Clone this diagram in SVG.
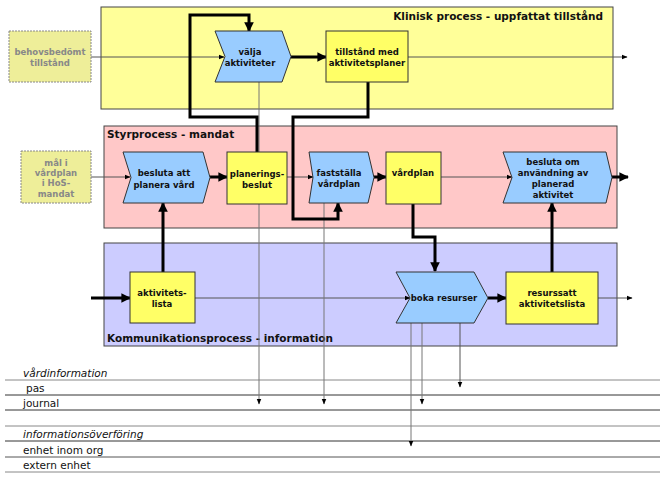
<svg xmlns="http://www.w3.org/2000/svg" width="669" height="477" viewBox="0 0 669 477">
<defs>
<style>
.lane{stroke:#444;stroke-width:1}
.box{fill:#FFFF66;stroke:#333;stroke-width:1}
.chev{fill:#99CCFF;stroke:#333;stroke-width:1}
.ext{fill:#EEEE99;stroke:#888;stroke-width:1;stroke-dasharray:2,1}
.lbl{font-family:"DejaVu Sans",Verdana,sans-serif;font-size:8.5px;font-weight:bold;fill:#111;text-anchor:middle}
.glbl{font-family:"DejaVu Sans",Verdana,sans-serif;font-size:8.5px;font-weight:bold;fill:#888;text-anchor:middle}
.title{font-family:"DejaVu Sans",Verdana,sans-serif;font-size:10.5px;font-weight:bold;fill:#111}
.row{font-family:"DejaVu Sans",Verdana,sans-serif;font-size:10.5px;fill:#111}
.it{font-style:italic}
.thick{stroke:#000;stroke-width:3;fill:none}
.thin{stroke:#555;stroke-width:1;fill:none}
.vthin{stroke:#777;stroke-width:1;fill:none}
</style>
<marker id="ah" viewBox="0 0 10 10" refX="9" refY="5" markerWidth="3.2" markerHeight="3.2" orient="auto" markerUnits="strokeWidth">
<path d="M0,0 L10,5 L0,10 z" fill="#000"/>
</marker>
<marker id="as" viewBox="0 0 10 10" refX="9" refY="5" markerWidth="6" markerHeight="6" orient="auto" markerUnits="strokeWidth">
<path d="M0,1 L10,5 L0,9 z" fill="#000"/>
</marker>
<pattern id="grid" width="8" height="8" patternUnits="userSpaceOnUse">
<rect width="8" height="8" fill="#EEEE99"/>
<path d="M8,0 V8 M0,8 H8" stroke="#FFFFCC" stroke-width="0.8"/>
</pattern>
</defs>

<g id="lane-klinisk">
<rect class="lane" x="101" y="7" width="512" height="102" fill="#FFFF99"/>
<text class="title" x="603" y="20" text-anchor="end">Klinisk process - uppfattat tillstånd</text>
</g>
<g id="lane-styr">
<rect class="lane" x="104" y="126" width="513" height="102" fill="#FFC8C8"/>
<text class="title" x="107" y="138">Styrprocess - mandat</text>
</g>
<g id="lane-komm">
<rect class="lane" x="104" y="243" width="513" height="103" fill="#CCCCFF"/>
<text class="title" x="107" y="342">Kommunikationsprocess - information</text>
</g>

<g id="rows">
<line x1="5" y1="380" x2="660" y2="380" stroke="#888" stroke-width="1"/>
<line x1="5" y1="395" x2="660" y2="395" stroke="#333" stroke-width="1"/>
<line x1="5" y1="410" x2="660" y2="410" stroke="#333" stroke-width="1"/>
<line x1="5" y1="426" x2="660" y2="426" stroke="#888" stroke-width="1"/>
<line x1="5" y1="441" x2="660" y2="441" stroke="#333" stroke-width="1"/>
<line x1="5" y1="457" x2="660" y2="457" stroke="#555" stroke-width="1"/>
<line x1="5" y1="472" x2="660" y2="472" stroke="#888" stroke-width="1"/>
<text class="row it" x="23" y="377">vårdinformation</text>
<text class="row" x="26" y="392">pas</text>
<text class="row" x="23" y="407">journal</text>
<text class="row it" x="23" y="438">informationsöverföring</text>
<text class="row" x="23" y="454">enhet inom org</text>
<text class="row" x="23" y="469">extern enhet</text>
</g>

<g id="connectors">
<path class="thin" d="M91,57 H224" marker-end="url(#as)"/>
<path class="thin" d="M408,57 H627" marker-end="url(#as)"/>
<path class="thin" d="M91,177 H130" marker-end="url(#as)"/>
<path class="thin" d="M287,177 H313" marker-end="url(#as)"/>
<path class="thin" d="M441,177 H512" marker-end="url(#as)"/>
<path class="thin" d="M195,298 H410" marker-end="url(#as)"/>
<path class="thin" d="M598,298 H632" marker-end="url(#as)"/>
<path class="vthin" d="M259,82 V404" marker-end="url(#as)"/>
<path class="vthin" d="M324,203 V404" marker-end="url(#as)"/>
<path class="vthin" d="M411,323 V446" marker-end="url(#as)"/>
<path class="vthin" d="M422,323 V404" marker-end="url(#as)"/>
<path class="thin" d="M460,323 V387" marker-end="url(#as)"/>
<path class="thick" d="M257,152 V117 H190 V15 H249 V31" marker-end="url(#ah)"/>
<path class="thick" d="M291,57 H326" marker-end="url(#ah)"/>
<path class="thick" d="M368,82 V117 H293 V219 H338 V203" marker-end="url(#ah)"/>
<path class="thick" d="M210,177 H227" marker-end="url(#ah)"/>
<path class="thick" d="M374,177 H386" marker-end="url(#ah)"/>
<path class="thick" d="M612,177 H628" marker-end="url(#ah)"/>
<path class="thick" d="M163,272 V203" marker-end="url(#ah)"/>
<path class="thick" d="M91,298 H130" marker-end="url(#ah)"/>
<path class="thick" d="M413,204 V237 H435 V271" marker-end="url(#ah)"/>
<path class="thick" d="M488,298 H506" marker-end="url(#ah)"/>
<path class="thick" d="M552,272 V203" marker-end="url(#ah)"/>
</g>

<g id="behovsbedomt">
<rect class="ext" x="9" y="31" width="82" height="51" fill="url(#grid)"/>
<text class="glbl" x="50" y="55">behovsbedömt</text>
<text class="glbl" x="50" y="66">tillstånd</text>
</g>
<g id="mal">
<rect class="ext" x="21" y="151" width="70" height="52" fill="url(#grid)"/>
<text class="glbl" x="56" y="166">mål i</text>
<text class="glbl" x="56" y="176">vårdplan</text>
<text class="glbl" x="56" y="186">i HoS-</text>
<text class="glbl" x="56" y="197">mandat</text>
</g>
<g id="valja">
<polygon class="chev" points="215,31 282,31 291,56.5 282,82 215,82 225,56.5"/>
<text class="lbl" x="250" y="55">välja</text>
<text class="lbl" x="250" y="66">aktiviteter</text>
</g>
<g id="tillstand">
<rect class="box" x="326" y="31" width="82" height="51"/>
<text class="lbl" x="367" y="55">tillstånd med</text>
<text class="lbl" x="367" y="66">aktivitetsplaner</text>
</g>
<g id="besluta-att">
<polygon class="chev" points="123,152 203,152 210,177.5 203,203 123,203 131,177.5"/>
<text class="lbl" x="164" y="176">besluta att</text>
<text class="lbl" x="164" y="188">planera vård</text>
</g>
<g id="planeringsbeslut">
<rect class="box" x="227" y="152" width="60" height="52"/>
<text class="lbl" x="257" y="177">planerings-</text>
<text class="lbl" x="257" y="188">beslut</text>
</g>
<g id="faststalla">
<polygon class="chev" points="309,152 368,152 374,177.5 368,203 309,203 313,177.5"/>
<text class="lbl" x="339" y="176">fastställa</text>
<text class="lbl" x="339" y="187">vårdplan</text>
</g>
<g id="vardplan">
<rect class="box" x="386" y="152" width="55" height="52"/>
<text class="lbl" x="413" y="176">vårdplan</text>
</g>
<g id="besluta-om">
<polygon class="chev" points="503,152 606,152 612,177.5 606,203 503,203 512,177.5"/>
<text class="lbl" x="553" y="165">besluta om</text>
<text class="lbl" x="553" y="176">användning av</text>
<text class="lbl" x="553" y="187">planerad</text>
<text class="lbl" x="553" y="198">aktivitet</text>
</g>
<g id="aktivitetslista">
<rect class="box" x="130" y="272" width="65" height="51"/>
<text class="lbl" x="162" y="296">aktivitets-</text>
<text class="lbl" x="162" y="307">lista</text>
</g>
<g id="boka">
<polygon class="chev" points="396,272 474,272 488,298 474,323 396,323 410,298"/>
<text class="lbl" x="444" y="301">boka resurser</text>
</g>
<g id="resurssatt">
<rect class="box" x="506" y="272" width="92" height="52"/>
<text class="lbl" x="552" y="296">resurssatt</text>
<text class="lbl" x="552" y="307">aktivitetslista</text>
</g>
</svg>
